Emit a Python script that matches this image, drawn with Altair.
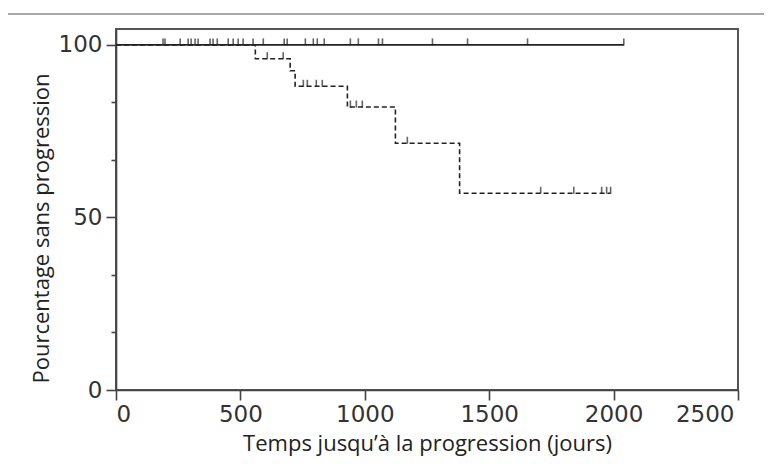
import altair as alt
import pandas as pd

# ---- data ----
solid_days = [0, 2041]
solid_pct = [100, 100]
solid_censor_days = [189, 197, 258, 290, 302, 318, 330, 378, 390, 407, 451, 471, 491,
                     511, 551, 592, 676, 688, 761, 793, 809, 837, 942, 974, 1055, 1071,
                     1272, 1413, 1654, 2041]

dashed_days = [0, 560, 700, 720, 930, 1123, 1381, 1988]
dashed_pct = [100, 96, 92.5, 88, 82, 71.5, 57, 57]
dashed_censor_days = [608, 672, 753, 769, 805, 829, 942, 966, 990, 1171, 1707, 1840,
                      1952, 1972, 1988]

x_ticks = [0, 500, 1000, 1500, 2000, 2500]
y_ticks = [0, 100 / 6, 200 / 6, 50, 400 / 6, 500 / 6, 100]


def level_at(day):
    lvl = dashed_pct[0]
    for d, p in zip(dashed_days, dashed_pct):
        if d <= day:
            lvl = p
    return lvl


solid_df = pd.DataFrame({"jours": solid_days, "pct": solid_pct})
solid_c_df = pd.DataFrame({"jours": solid_censor_days, "pct": [100] * len(solid_censor_days)})
dashed_df = pd.DataFrame({"jours": dashed_days, "pct": dashed_pct})
dashed_c_df = pd.DataFrame({"jours": dashed_censor_days,
                            "pct": [level_at(d) for d in dashed_censor_days]})

INK = "#222222"
MAJOR = "abs(datum.value - round(datum.value / 50) * 50) < 0.01"

x_enc = alt.X("jours:Q",
              scale=alt.Scale(domain=[0, 2500], nice=False),
              axis=alt.Axis(values=x_ticks, format="d",
                            title="Temps jusqu\u2019à la progression (jours)",
                            grid=False, tickSize=10, labelPadding=3,
                            labelOffset=alt.condition("datum.value == 2500", alt.value(-4), alt.value(0)),
                            titleY=60, titleBaseline="alphabetic"))
y_enc = alt.Y("pct:Q",
              scale=alt.Scale(domain=[0, 104.6], nice=False),
              axis=alt.Axis(values=y_ticks, title="Pourcentage sans progression",
                            grid=False,
                            labelExpr=MAJOR + " ? format(datum.value, 'd') : ''",
                            tickSize=alt.condition(MAJOR, alt.value(10), alt.value(5)),
                            labelPadding=4,
                            titleX=-68, titleY=199, titleBaseline="alphabetic",
                            titleAlign="center", titleAngle=270))

solid = alt.Chart(solid_df).mark_line(color=INK, strokeWidth=1.6, interpolate="step-after").encode(
    x=x_enc, y=y_enc)
dashed = alt.Chart(dashed_df).mark_line(color=INK, strokeWidth=1.6, interpolate="step-after",
                                        strokeDash=[5, 3]).encode(x="jours:Q", y="pct:Q")
solid_ticks = alt.Chart(solid_c_df).mark_tick(color=INK, orient="vertical", size=7,
                                              thickness=1.6, yOffset=-3).encode(
    x="jours:Q", y="pct:Q")
dashed_ticks = alt.Chart(dashed_c_df).mark_tick(color=INK, orient="vertical", size=7,
                                                thickness=1.6, yOffset=-3).encode(
    x="jours:Q", y="pct:Q")

top_rule = alt.Chart(pd.DataFrame({"a": [0]})).mark_rule(color="#aaaaaa", strokeWidth=2).encode(
    x=alt.value(-108), x2=alt.value(648), y=alt.value(-15))

chart = alt.layer(solid, dashed, solid_ticks, dashed_ticks, top_rule).properties(
    width=622, height=361,
    autosize=alt.AutoSizeParams(type="none"),
    padding={"left": 108, "top": 21, "right": 26, "bottom": 66},
).configure_view(
    stroke="#555555", strokeWidth=2
).configure_axis(
    domainColor="#444444", domainWidth=1.6,
    tickColor="#444444", tickWidth=1.6,
    labelFont="DejaVu Sans", labelFontSize=23, labelColor="#333333",
    titleFont="Open Sans", titleFontSize=22, titleColor=INK, titleFontWeight="normal",
)

chart.save("out.html", embed_options={"renderer": "svg", "actions": False})
